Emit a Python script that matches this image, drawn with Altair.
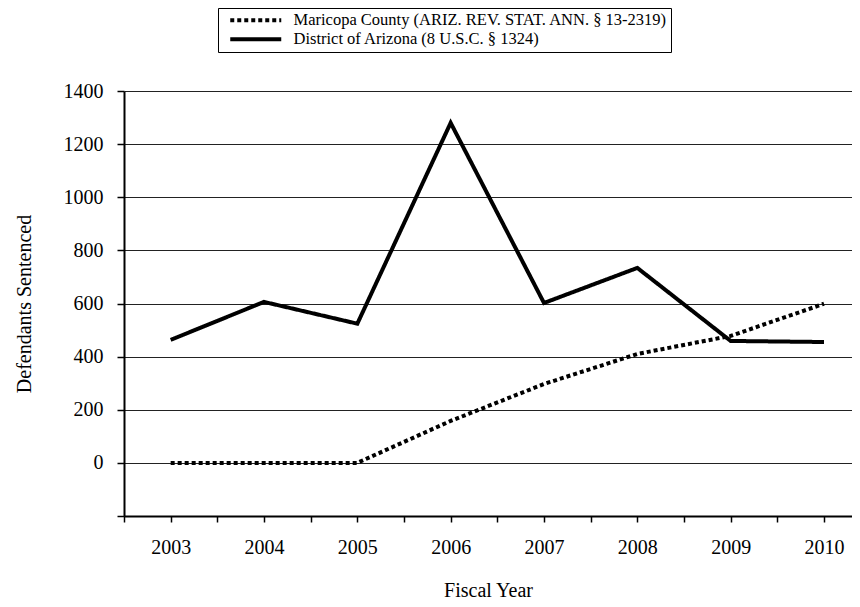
import altair as alt
import pandas as pd

years = [2003, 2004, 2005, 2006, 2007, 2008, 2009, 2010]
maricopa = [0, 0, 0, 158, 297, 410, 478, 599]
district = [463, 606, 524, 1280, 602, 734, 459, 455]

s_mar = "Maricopa County (ARIZ. REV. STAT. ANN. § 13-2319)"
s_dis = "District of Arizona  (8 U.S.C. § 1324)"

rows = []
for y, v in zip(years, maricopa):
    rows.append({"year": y, "value": v, "series": s_mar})
for y, v in zip(years, district):
    rows.append({"year": y, "value": v, "series": s_dis})
df = pd.DataFrame(rows)

y_ticks = list(range(-200, 1401, 200))

FONT = "Liberation Serif"

chart = alt.Chart(df).mark_line(color="black", strokeWidth=4).encode(
    x=alt.X("year:Q",
            scale=alt.Scale(domain=[2002.5, 2010.3], nice=False, zero=False),
            axis=alt.Axis(title="Fiscal Year", tickCount=16,
                          labelExpr="datum.value % 1 === 0 ? format(datum.value, 'd') : ''",
                          labelOverlap=False, labelFlush=False, grid=False, tickSize=6,
                          labelPadding=15, titlePadding=23)),
    y=alt.Y("value:Q",
            scale=alt.Scale(domain=[-200, 1400], nice=False),
            axis=alt.Axis(title="Defendants Sentenced", values=y_ticks,
                          labelExpr="datum.value < 0 ? '' : format(datum.value, 'd')",
                          tickSize=7, labelPadding=14,
                          titlePadding=29, grid=True)),
    strokeDash=alt.StrokeDash("series:N",
                              scale=alt.Scale(domain=[s_mar, s_dis],
                                              range=[[4, 3], [1, 0]]),
                              legend=alt.Legend(title=None, orient="none",
                                                legendX=94, legendY=-83,
                                                symbolType="M0,0H10.2",
                                                symbolSize=100,
                                                symbolStrokeWidth=4,
                                                symbolStrokeColor="black",
                                                labelOffset=55,
                                                labelFont=FONT,
                                                labelFontSize=16.5,
                                                labelColor="black",
                                                labelLimit=600,
                                                rowPadding=2,
                                                padding=4,
                                                strokeColor="black",
                                                fillColor="white")),
).properties(
    width=728, height=425,
    autosize=alt.AutoSizeParams(type="none"),
    padding={"left": 116, "top": 83, "right": 0, "bottom": 86},
).configure_view(stroke=None).configure_axis(
    labelFont=FONT, labelFontSize=20, labelColor="black",
    titleFont=FONT, titleFontSize=20, titleColor="black", titleFontWeight="normal",
    domainColor="black", domainWidth=2, tickColor="black", tickWidth=1.5,
    gridColor="#222222", gridWidth=1, gridOpacity=1,
)

chart.save("out.html", embed_options={"renderer": "svg", "actions": False})
